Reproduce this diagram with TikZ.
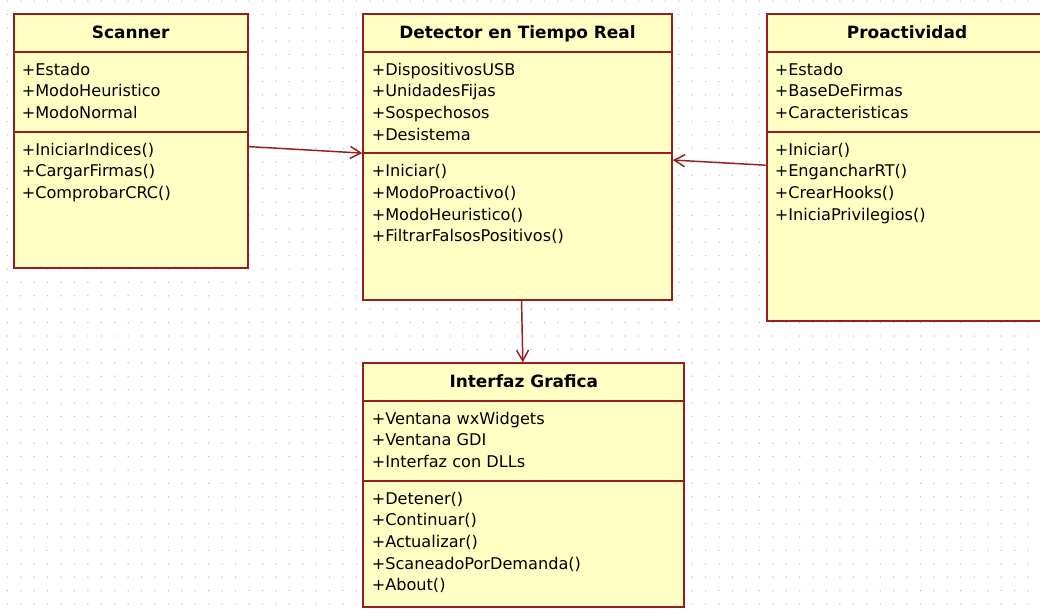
\documentclass[tikz,border=0pt]{standalone}
\usepackage{fontspec}
\setmainfont{DejaVu Sans}
\usetikzlibrary{arrows.meta,calc,fit}
\definecolor{umlborder}{RGB}{150,30,30}
\definecolor{umlfill}{RGB}{255,255,196}
\definecolor{dotc}{RGB}{190,190,190}
\tikzset{
  classbox/.style={draw=umlborder, fill=umlfill, line width=1.5pt, inner sep=0pt, rectangle},
  divider/.style={draw=umlborder, line width=1.5pt},
  member/.style={anchor=base west, inner sep=0pt, font=\fontsize{12.1}{14}\selectfont},
  ctitle/.style={anchor=base, inner sep=0pt, font=\bfseries\fontsize{12.7}{15}\selectfont},
  assoc/.style={draw=umlborder, line width=1.1pt, -{Straight Barb[length=8pt,width=9pt,line width=1.1pt]}},
}
\begin{document}
\begin{tikzpicture}[x=0.75pt,y=-0.75pt]
\clip (0,0) rectangle (1040,615);
\useasboundingbox (0,0) rectangle (1040,615);
\fill[white] (0,0) rectangle (1040,615);
% dotted grid
\foreach \i in {0,...,77}{
  \foreach \j in {0,...,45}{
    \fill[dotc] ({7.3+13.43*\i},{1+13.4*\j}) circle (0.55pt);
  }
}
% Scanner
\node[classbox, fit={(13.7,14.3) (247.7,267.7)}] (scanner) {};
\draw[divider] (13.7,51.7) -- (247.7,51.7);
\draw[divider] (13.7,131.7) -- (247.7,131.7);
\node[ctitle] (scannerT) at (130.7,38.3) {Scanner};
\node[member] (s1) at (21.5,75) {+Estado};
\node[member] (s2) at (21.5,96.7) {+ModoHeuristico};
\node[member] (s3) at (21.5,118.3) {+ModoNormal};
\node[member] (s4) at (21.5,155) {+IniciarIndices()};
\node[member] (s5) at (21.5,176.7) {+CargarFirmas()};
\node[member] (s6) at (21.5,198.3) {+ComprobarCRC()};
% Detector
\node[classbox, fit={(363.3,14.3) (671.7,300)}] (detector) {};
\draw[divider] (363.3,51.7) -- (671.7,51.7);
\draw[divider] (363.3,153.3) -- (671.7,153.3);
\node[ctitle] (detectorT) at (517.5,38.3) {Detector en Tiempo Real};
\node[member] (d1) at (371.5,75) {+DispositivosUSB};
\node[member] (d2) at (371.5,96.7) {+UnidadesFijas};
\node[member] (d3) at (371.5,118.3) {+Sospechosos};
\node[member] (d4) at (371.5,140) {+Desistema};
\node[member] (d5) at (371.5,176.7) {+Iniciar()};
\node[member] (d6) at (371.5,198.3) {+ModoProactivo()};
\node[member] (d7) at (371.5,220) {+ModoHeuristico()};
\node[member] (d8) at (371.5,241.7) {+FiltrarFalsosPositivos()};
% Proactividad
\node[classbox, fit={(766.7,14.3) (1047,321)}] (proact) {};
\draw[divider] (766.7,51.7) -- (1047,51.7);
\draw[divider] (766.7,131.7) -- (1047,131.7);
\node[ctitle] (proactT) at (907,38.3) {Proactividad};
\node[member] (p1) at (774.5,75) {+Estado};
\node[member] (p2) at (774.5,96.7) {+BaseDeFirmas};
\node[member] (p3) at (774.5,118.3) {+Caracteristicas};
\node[member] (p4) at (774.5,155) {+Iniciar()};
\node[member] (p5) at (774.5,176.7) {+EngancharRT()};
\node[member] (p6) at (774.5,198.3) {+CrearHooks()};
\node[member] (p7) at (774.5,220) {+IniciaPrivilegios()};
% Interfaz
\node[classbox, fit={(363.3,363.3) (684.3,606.7)}] (interfaz) {};
\draw[divider] (363.3,400.7) -- (684.3,400.7);
\draw[divider] (363.3,480.7) -- (684.3,480.7);
\node[ctitle] (interfazT) at (523.8,387.3) {Interfaz Grafica};
\node[member] (i1) at (371.5,424) {+Ventana wxWidgets};
\node[member] (i2) at (371.5,445.7) {+Ventana GDI};
\node[member] (i3) at (371.5,467.3) {+Interfaz con DLLs};
\node[member] (i4) at (371.5,504) {+Detener()};
\node[member] (i5) at (371.5,525.7) {+Continuar()};
\node[member] (i6) at (371.5,547.3) {+Actualizar()};
\node[member] (i7) at (371.5,569) {+ScaneadoPorDemanda()};
\node[member] (i8) at (371.5,590.7) {+About()};
% connectors
\draw[assoc] ($(scanner.north east)!0.522!(scanner.south east)$) -- ($(detector.north west)!0.486!(detector.south west)$);
\draw[assoc] ($(proact.north west)!0.492!(proact.south west)$) -- ($(detector.north east)!0.51!(detector.south east)$);
\draw[assoc] ($(detector.south west)!0.513!(detector.south east)$) -- ($(interfaz.north west)!0.497!(interfaz.north east)$);
\end{tikzpicture}
\end{document}
